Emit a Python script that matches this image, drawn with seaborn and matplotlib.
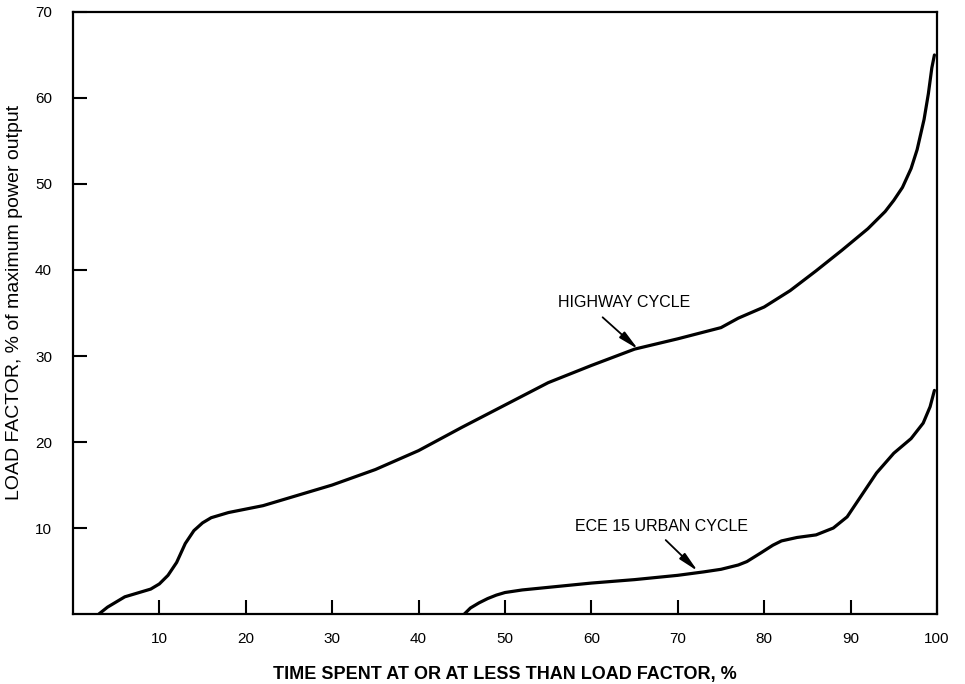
import matplotlib
matplotlib.use("Agg")
import matplotlib.pyplot as plt
import seaborn as sns
import pandas as pd

sns.set_theme(style="white")
plt.rcParams['font.family'] = ['Liberation Sans', 'DejaVu Sans']
plt.rcParams['text.color'] = 'black'
plt.rcParams['axes.labelcolor'] = 'black'

highway_x = [3, 4, 5, 6, 7, 8, 9, 10, 11, 12, 13, 14, 15, 16, 17, 18, 20, 22, 25, 30, 35, 40, 45,
             50, 55, 60, 65, 70, 75, 77, 80, 83, 86, 89, 92, 94, 95, 96, 97, 97.7, 98.5, 99,
             99.4, 99.7]
highway_y = [0, 0.8, 1.4, 2.0, 2.3, 2.6, 2.9, 3.5, 4.5, 6.0, 8.2, 9.7, 10.6, 11.2, 11.5, 11.8, 12.2,
             12.6, 13.5, 15.0, 16.8, 19.0, 21.7, 24.3, 26.9, 28.9, 30.8, 32.0, 33.3, 34.4, 35.7,
             37.6, 39.9, 42.3, 44.8, 46.8, 48.1, 49.6, 51.8, 54.0, 57.5, 60.5, 63.5, 65.0]

urban_x = [45.3, 46, 47, 48, 49, 50, 52, 55, 60, 65, 70, 73, 75, 77, 78, 79.6, 81, 82, 83.8, 86,
           88, 89.6, 91, 93, 95, 97, 98.4, 99.2, 99.7]
urban_y = [0, 0.7, 1.3, 1.8, 2.2, 2.5, 2.8, 3.1, 3.6, 4.0, 4.5, 4.9, 5.2, 5.7, 6.1, 7.1, 8.0,
           8.5, 8.9, 9.2, 10.0, 11.3, 13.4, 16.4, 18.7, 20.4, 22.2, 24.1, 26.0]

x_ticks = [10, 20, 30, 40, 50, 60, 70, 80, 90, 100]
y_ticks = [10, 20, 30, 40, 50, 60, 70]

hw = pd.DataFrame({"x": highway_x, "y": highway_y})
ur = pd.DataFrame({"x": urban_x, "y": urban_y})

fig = plt.figure(figsize=(9.65, 6.84), dpi=100)
ax = fig.add_axes([0.0756, 0.1023, 0.8954, 0.8802])

sns.lineplot(data=hw, x="x", y="y", sort=False, color="black", lw=2.3, ax=ax)
sns.lineplot(data=ur, x="x", y="y", sort=False, color="black", lw=2.3, ax=ax)
for ln in ax.lines:
    ln.set_solid_joinstyle("round")
    ln.set_solid_capstyle("round")

ax.set_xlim(0, 100)
ax.set_ylim(0, 70)
ax.set_xticks(x_ticks)
ax.set_yticks(y_ticks)
ax.set_xticklabels([str(t) for t in x_ticks], fontsize=11)
ax.set_yticklabels([str(t) for t in y_ticks], fontsize=11)
ax.tick_params(direction="in", length=10, width=1.5, colors="black",
               bottom=True, left=True, top=False, right=False)
ax.tick_params(axis="x", pad=13)
ax.tick_params(axis="y", pad=15)
for s in ax.spines.values():
    s.set_linewidth(1.6)
    s.set_color("black")

ax.set_xlabel("TIME SPENT AT OR AT LESS THAN LOAD FACTOR, %", fontsize=13,
              fontweight="bold", labelpad=14, color="black")
ax.set_ylabel("LOAD FACTOR, % of maximum power output", fontsize=14, color="black")
ax.yaxis.set_label_coords(-0.058, 0.518)

arrow = dict(arrowstyle="-|>,head_length=1.0,head_width=0.2", color="black", lw=1.3,
             shrinkA=0, shrinkB=0)
ax.annotate("", xy=(65.4, 30.8), xytext=(61.3, 34.5), arrowprops=arrow)
ax.text(63.8, 36.2, "HIGHWAY CYCLE", ha="center", va="center", fontsize=11.5)
ax.annotate("", xy=(72.3, 5.0), xytext=(68.6, 8.6), arrowprops=arrow)
ax.text(68.1, 10.2, "ECE 15 URBAN CYCLE", ha="center", va="center", fontsize=11.5)

fig.savefig("out.png", dpi=100)
